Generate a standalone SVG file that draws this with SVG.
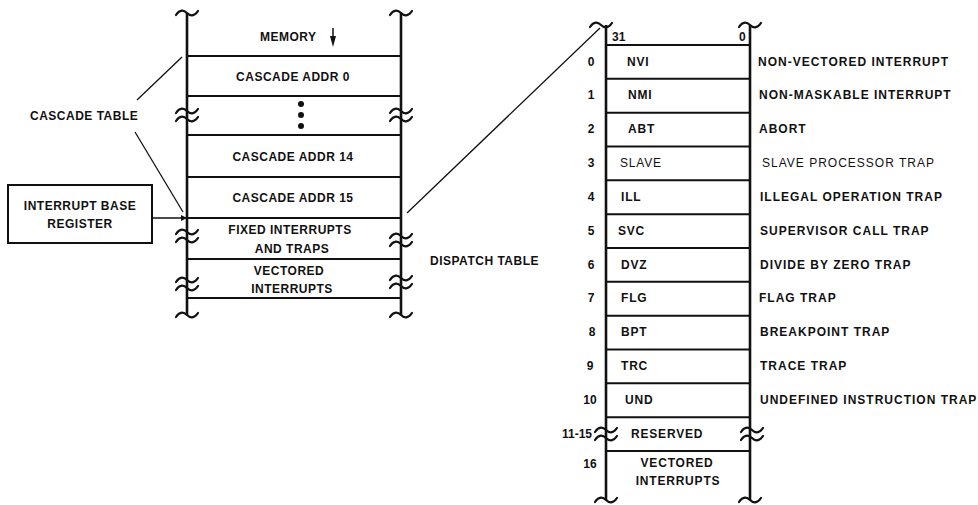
<svg xmlns="http://www.w3.org/2000/svg" xmlns:xlink="http://www.w3.org/1999/xlink" width="978" height="505" viewBox="0 0 978 505">
<style>
text{font-family:"Liberation Sans",Arial,sans-serif;font-size:12px;font-weight:bold;fill:#111}
.l{letter-spacing:0.5px}
.d{letter-spacing:1px}
.c{letter-spacing:0.8px}
.n{font-weight:normal}
.mid{text-anchor:middle}
.end{text-anchor:end}
.v{stroke:#111;stroke-width:2.6;fill:none}
.h{stroke:#111;stroke-width:2;fill:none}
.t{stroke:#111;stroke-width:2.2;fill:none;stroke-linecap:round}
.thin{stroke:#111;stroke-width:1.3;fill:none}
</style>
<defs>
<path id="tl" d="M-11,2 C-7,-4 -3,-3 0,0 C3,3 7,4 11,-2"/>
<marker id="ah" viewBox="0 0 10 10" refX="10" refY="5" markerWidth="9" markerHeight="6" markerUnits="userSpaceOnUse" orient="auto">
<path d="M0,0 L10,5 L0,10 z" fill="#111"/>
</marker>
</defs>

<g id="memory-column">
<line class="v" x1="187" y1="13" x2="187" y2="315"/>
<line class="v" x1="401" y1="13" x2="401" y2="315"/>
<use href="#tl" class="t" x="187" y="13"/>
<use href="#tl" class="t" x="401" y="13"/>
<use href="#tl" class="t" x="187" y="315"/>
<use href="#tl" class="t" x="401" y="315"/>
<use href="#tl" class="t" x="187" y="111"/>
<use href="#tl" class="t" x="187" y="119"/>
<use href="#tl" class="t" x="401" y="111"/>
<use href="#tl" class="t" x="401" y="119"/>
<use href="#tl" class="t" x="187" y="232"/>
<use href="#tl" class="t" x="187" y="240"/>
<use href="#tl" class="t" x="401" y="236"/>
<use href="#tl" class="t" x="401" y="244"/>
<use href="#tl" class="t" x="187" y="280"/>
<use href="#tl" class="t" x="187" y="288"/>
<use href="#tl" class="t" x="401" y="278"/>
<use href="#tl" class="t" x="401" y="286"/>
<line class="h" x1="187" y1="56" x2="401" y2="56"/>
<line class="h" x1="187" y1="96" x2="401" y2="96"/>
<line class="h" x1="187" y1="135" x2="401" y2="135"/>
<line class="h" x1="187" y1="177" x2="401" y2="177"/>
<line class="h" x1="187" y1="218" x2="401" y2="218"/>
<line class="h" x1="187" y1="259" x2="401" y2="259"/>
<line class="h" x1="187" y1="298" x2="401" y2="298"/>
</g>

<g id="memory-label">
<text class="l" x="260" y="41">MEMORY</text>
<line x1="333" y1="28" x2="333" y2="40" stroke="#111" stroke-width="1.5"/>
<polygon points="330,36 336,36 333,47" fill="#111"/>
</g>
<g id="cascade-addr-0"><text class="l mid" x="293" y="81">CASCADE ADDR 0</text></g>
<g id="cascade-dots">
<circle cx="301" cy="104" r="3" fill="#111"/>
<circle cx="301" cy="115" r="3" fill="#111"/>
<circle cx="301" cy="126" r="3" fill="#111"/>
</g>
<g id="cascade-addr-14"><text class="l mid" x="293" y="161">CASCADE ADDR 14</text></g>
<g id="cascade-addr-15"><text class="l mid" x="293" y="202">CASCADE ADDR 15</text></g>
<g id="fixed-interrupts">
<text class="l mid" x="290" y="234">FIXED INTERRUPTS</text>
<text class="l mid" x="292" y="253">AND TRAPS</text>
</g>
<g id="vectored-interrupts-mem">
<text class="l mid" x="289" y="275">VECTORED</text>
<text class="l mid" x="292" y="293">INTERRUPTS</text>
</g>

<g id="cascade-table-label"><text class="l" x="30" y="120">CASCADE TABLE</text></g>
<g id="interrupt-base-register">
<rect x="8" y="185" width="144" height="58" class="h"/>
<text class="l mid" x="80" y="210">INTERRUPT BASE</text>
<text class="l mid" x="80" y="228">REGISTER</text>
</g>
<g id="dispatch-table-label"><text class="l" x="430" y="265">DISPATCH TABLE</text></g>

<g id="dispatch-table">
<line class="v" x1="606" y1="25" x2="606" y2="500"/>
<line class="v" x1="750" y1="25" x2="750" y2="500"/>
<use href="#tl" class="t" x="601" y="25"/>
<use href="#tl" class="t" x="750" y="25"/>
<use href="#tl" class="t" x="606" y="500"/>
<use href="#tl" class="t" x="750" y="500"/>
<use href="#tl" class="t" x="606" y="430"/>
<use href="#tl" class="t" x="606" y="438"/>
<use href="#tl" class="t" x="752" y="430"/>
<use href="#tl" class="t" x="752" y="438"/>
<line class="h" x1="606" y1="45" x2="750" y2="45"/>
<line class="h" x1="606" y1="78.8" x2="750" y2="78.8"/>
<line class="h" x1="606" y1="112.7" x2="750" y2="112.7"/>
<line class="h" x1="606" y1="146.5" x2="750" y2="146.5"/>
<line class="h" x1="606" y1="180.3" x2="750" y2="180.3"/>
<line class="h" x1="606" y1="214.2" x2="750" y2="214.2"/>
<line class="h" x1="606" y1="248" x2="750" y2="248"/>
<line class="h" x1="606" y1="281.8" x2="750" y2="281.8"/>
<line class="h" x1="606" y1="315.7" x2="750" y2="315.7"/>
<line class="h" x1="606" y1="349.5" x2="750" y2="349.5"/>
<line class="h" x1="606" y1="383.3" x2="750" y2="383.3"/>
<line class="h" x1="606" y1="417.2" x2="750" y2="417.2"/>
<line class="h" x1="606" y1="451" x2="750" y2="451"/>
<text x="612" y="41">31</text>
<text x="739" y="41">0</text>
</g>

<g id="row-0"><text class="mid" x="591" y="65.5">0</text><text class="c" x="627" y="65.5">NVI</text><text class="d" x="758" y="65.5">NON-VECTORED INTERRUPT</text></g>
<g id="row-1"><text class="mid" x="591" y="99.3">1</text><text class="c" x="628" y="99.3">NMI</text><text class="d" x="759" y="99.3">NON-MASKABLE INTERRUPT</text></g>
<g id="row-2"><text class="mid" x="591" y="133.2">2</text><text class="c" x="628" y="133.2">ABT</text><text class="d" x="759" y="133.2">ABORT</text></g>
<g id="row-3"><text class="mid" x="591" y="167">3</text><text class="c n" x="620" y="167">SLAVE</text><text class="d n" x="762" y="167">SLAVE PROCESSOR TRAP</text></g>
<g id="row-4"><text class="mid" x="591" y="200.8">4</text><text class="c" x="621" y="200.8">ILL</text><text class="d" x="760" y="200.8">ILLEGAL OPERATION TRAP</text></g>
<g id="row-5"><text class="mid" x="591" y="234.7">5</text><text class="c" x="618" y="234.7">SVC</text><text class="d" x="760" y="234.7">SUPERVISOR CALL TRAP</text></g>
<g id="row-6"><text class="mid" x="591" y="268.5">6</text><text class="c" x="621" y="268.5">DVZ</text><text class="d" x="760" y="268.5">DIVIDE BY ZERO TRAP</text></g>
<g id="row-7"><text class="mid" x="591" y="302.3">7</text><text class="c" x="621" y="302.3">FLG</text><text class="d" x="759" y="302.3">FLAG TRAP</text></g>
<g id="row-8"><text class="mid" x="592" y="336.2">8</text><text class="c" x="621" y="336.2">BPT</text><text class="d" x="760" y="336.2">BREAKPOINT TRAP</text></g>
<g id="row-9"><text class="mid" x="590" y="370">9</text><text class="c" x="621" y="370">TRC</text><text class="d" x="760" y="370">TRACE TRAP</text></g>
<g id="row-10"><text class="mid" x="590" y="403.8">10</text><text class="c" x="625" y="403.8">UND</text><text class="d" x="760" y="403.8">UNDEFINED INSTRUCTION TRAP</text></g>
<g id="row-11-15"><text class="end" x="592" y="437.7">11-15</text><text class="c" x="631" y="437.7">RESERVED</text></g>
<g id="row-16"><text class="mid" x="590" y="468">16</text><text class="c mid" x="677" y="467">VECTORED</text><text class="c mid" x="678" y="485">INTERRUPTS</text></g>

<g id="connectors">
<line class="thin" x1="137" y1="100" x2="182" y2="57"/>
<line class="thin" x1="135" y1="132" x2="183" y2="212"/>
<line class="thin" x1="407" y1="213" x2="600" y2="28"/>
<line class="thin" x1="152" y1="218" x2="187" y2="218" marker-end="url(#ah)"/>
</g>
</svg>
